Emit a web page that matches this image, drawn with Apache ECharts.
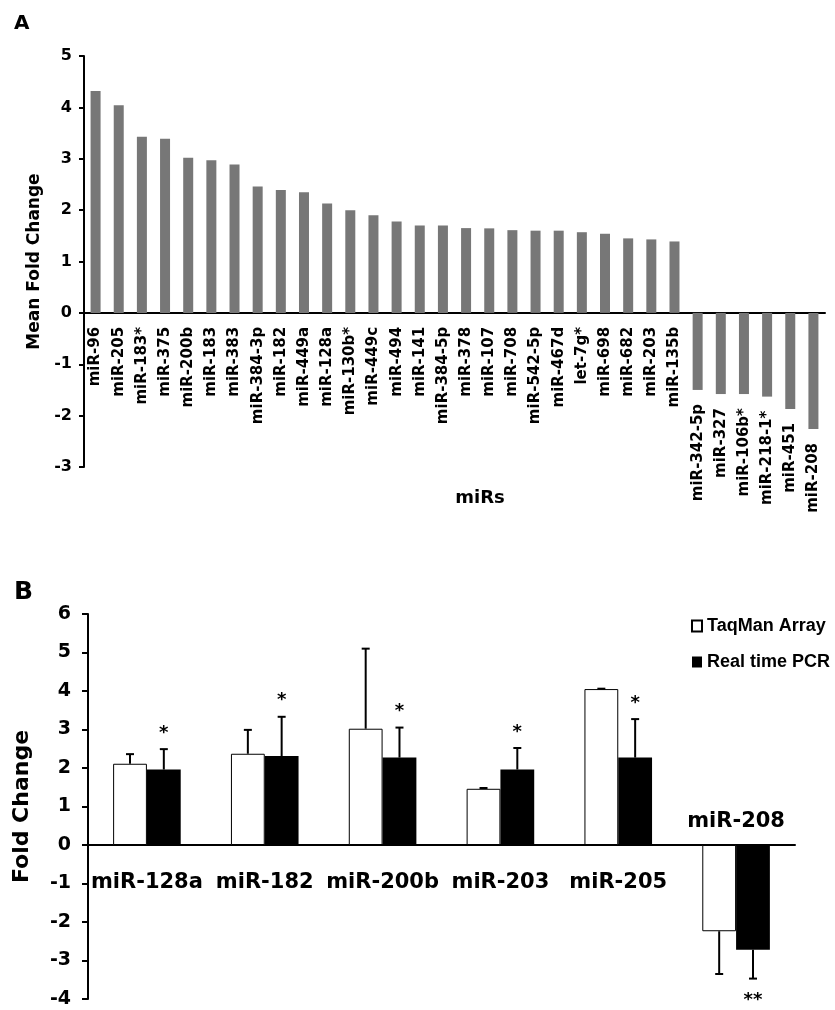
<!DOCTYPE html>
<html><head><meta charset="utf-8">
<script src="https://cdn.jsdelivr.net/npm/echarts@6/dist/echarts.min.js"></script>
<style>html,body{margin:0;padding:0;background:#fff}#c{width:835px;height:1010px}</style>
</head><body><div id="c"></div>
<script>
// Panel A data
const catsA = ['miR-96','miR-205','miR-183*','miR-375','miR-200b','miR-183','miR-383','miR-384-3p','miR-182','miR-449a','miR-128a','miR-130b*','miR-449c','miR-494','miR-141','miR-384-5p','miR-378','miR-107','miR-708','miR-542-5p','miR-467d','let-7g*','miR-698','miR-682','miR-203','miR-135b','miR-342-5p','miR-327','miR-106b*','miR-218-1*','miR-451','miR-208'];
const foldA = [4.32,4.04,3.43,3.39,3.02,2.97,2.89,2.46,2.39,2.35,2.13,2.00,1.90,1.78,1.70,1.70,1.65,1.645,1.61,1.60,1.60,1.57,1.54,1.45,1.43,1.39,-1.50,-1.58,-1.58,-1.63,-1.87,-2.26];

// Panel B data
const catsB = ['miR-128a','miR-182','miR-200b','miR-203','miR-205','miR-208'];
const taqman = [2.11,2.37,3.02,1.46,4.05,-2.24];
const taqmanErr = [0.25,0.62,2.08,0.02,0.01,1.11];
const pcr = [1.96,2.31,2.27,1.96,2.27,-2.72];
const pcrErr = [0.53,1.02,0.78,0.56,1.00,0.75];
const pcrSig = ['*','*','*','*','*','**'];

const F = 'DejaVu Sans';
const BW = 33.8;

function errData(vals, errs) {
  return vals.map((v, i) => [i, v, v >= 0 ? v + errs[i] : v - errs[i]]);
}
function errRender(sign, sigs) {
  return function (params, api) {
    const i = api.value(0), v = api.value(1), e = api.value(2);
    const p0 = api.coord([i, v]);
    const p1 = api.coord([i, e]);
    const x = p0[0] + sign * BW / 2;
    const ch = [
      {type: 'line', shape: {x1: x, y1: p0[1], x2: x, y2: p1[1]}, style: {stroke: '#000', lineWidth: 2}},
      {type: 'line', shape: {x1: x - 4, y1: p1[1], x2: x + 4, y2: p1[1]}, style: {stroke: '#000', lineWidth: 2}}
    ];
    if (sigs) {
      const up = e >= v;
      ch.push({type: 'text', style: {text: sigs[params.dataIndex], x: x, y: p1[1] + (up ? -16 : 22),
        align: 'center', verticalAlign: 'middle', fontSize: 18, fontWeight: 'bold', fontFamily: F, fill: '#000'}});
    }
    return {type: 'group', children: ch};
  };
}
// category labels of panel B: below the axis for up-regulated miRs, above it for down-regulated
function catLabelRender(params, api) {
  const i = api.value(0);
  const p = api.coord([i, 0]);
  const neg = pcr[i] < 0;
  return {type: 'text', style: {text: catsB[i], x: p[0], y: p[1] + (neg ? -23 : 38),
    align: 'center', verticalAlign: 'middle', fontSize: 21, fontWeight: 'bold', fontFamily: F, fill: '#000'}};
}

const axisLineStyle = {color: '#000', width: 2};
const chart = echarts.init(document.getElementById('c'), null, {renderer: 'canvas'});
chart.setOption({
  animation: false,
  backgroundColor: '#fff',
  textStyle: {fontFamily: F},
  title: [
    {text: 'A', left: 9, top: 9, textStyle: {fontFamily: F, fontWeight: 'bold', fontSize: 20, color: '#000'}},
    {text: 'B', left: 9, top: 575, textStyle: {fontFamily: F, fontWeight: 'bold', fontSize: 25, color: '#000'}},
    {text: 'miRs', left: 475, top: 484, textAlign: 'center', textStyle: {fontFamily: F, fontWeight: 'bold', fontSize: 18, color: '#000'}}
  ],
  legend: {
    orient: 'vertical', left: 686, top: 612, itemWidth: 10, itemHeight: 11, itemGap: 18, icon: 'rect',
    data: ['TaqMan Array', 'Real time PCR'],
    textStyle: {fontFamily: 'Liberation Sans', fontWeight: 'bold', fontSize: 18, color: '#000'}
  },
  grid: [
    {left: 84, right: 10, top: 56, height: 411, outerBoundsMode: 'none'},
    {left: 88, right: 40, top: 614, height: 385, outerBoundsMode: 'none'}
  ],
  xAxis: [
    {type: 'category', gridIndex: 0, data: catsA, boundaryGap: true,
      axisLine: {lineStyle: axisLineStyle},
      axisTick: {interval: 0, length: 5, lineStyle: {color: '#000', width: 2}},
      axisLabel: {show: false}, splitLine: {show: false}},
    {type: 'category', gridIndex: 1, data: catsB, boundaryGap: true,
      axisLine: {lineStyle: axisLineStyle},
      axisTick: {interval: 0, length: 6, lineStyle: {color: '#000', width: 2}},
      axisLabel: {show: false}, splitLine: {show: false}}
  ],
  yAxis: [
    {type: 'value', gridIndex: 0, min: -3, max: 5, interval: 1,
      name: 'Mean Fold Change', nameLocation: 'middle', nameGap: 37,
      nameTextStyle: {fontFamily: F, fontWeight: 'bold', fontSize: 17, color: '#000'},
      axisLine: {show: true, lineStyle: axisLineStyle},
      axisTick: {show: true, length: 5, lineStyle: {color: '#000', width: 2}},
      axisLabel: {margin: 12, fontFamily: F, fontWeight: 'bold', fontSize: 16, color: '#000'},
      splitLine: {show: false}},
    {type: 'value', gridIndex: 1, min: -4, max: 6, interval: 1,
      name: 'Fold Change', nameLocation: 'middle', nameGap: 55,
      nameTextStyle: {fontFamily: F, fontWeight: 'bold', fontSize: 22, color: '#000'},
      axisLine: {show: true, lineStyle: axisLineStyle},
      axisTick: {show: true, length: 6, lineStyle: {color: '#000', width: 2}},
      axisLabel: {margin: 17, fontFamily: F, fontWeight: 'bold', fontSize: 19, color: '#000'},
      splitLine: {show: false}}
  ],
  series: [
    {type: 'bar', name: 'Mean fold change', xAxisIndex: 0, yAxisIndex: 0, data: foldA, barWidth: 10,
      itemStyle: {color: '#777777'},
      label: {show: true, position: 'bottom', distance: 14, rotate: 90, align: 'right', verticalAlign: 'middle',
        formatter: '{b}', fontFamily: F, fontWeight: 'bold', fontSize: 15, color: '#000'}},
    {type: 'bar', name: 'TaqMan Array', xAxisIndex: 1, yAxisIndex: 1, data: taqman, barWidth: BW, barGap: '0%',
      itemStyle: {color: '#ffffff', borderColor: '#000', borderWidth: 1}},
    {type: 'bar', name: 'Real time PCR', xAxisIndex: 1, yAxisIndex: 1, data: pcr, barWidth: BW, barGap: '0%',
      itemStyle: {color: '#000000'}},
    {type: 'custom', name: 'TaqMan err', xAxisIndex: 1, yAxisIndex: 1, data: errData(taqman, taqmanErr),
      renderItem: errRender(-1, null), z: 5},
    {type: 'custom', name: 'PCR err', xAxisIndex: 1, yAxisIndex: 1, data: errData(pcr, pcrErr),
      renderItem: errRender(1, pcrSig), z: 5},
    {type: 'custom', name: 'miR labels', xAxisIndex: 1, yAxisIndex: 1, data: catsB.map((c, i) => [i, 0]),
      renderItem: catLabelRender, z: 6, clip: false}
  ]
});
</script></body></html>
